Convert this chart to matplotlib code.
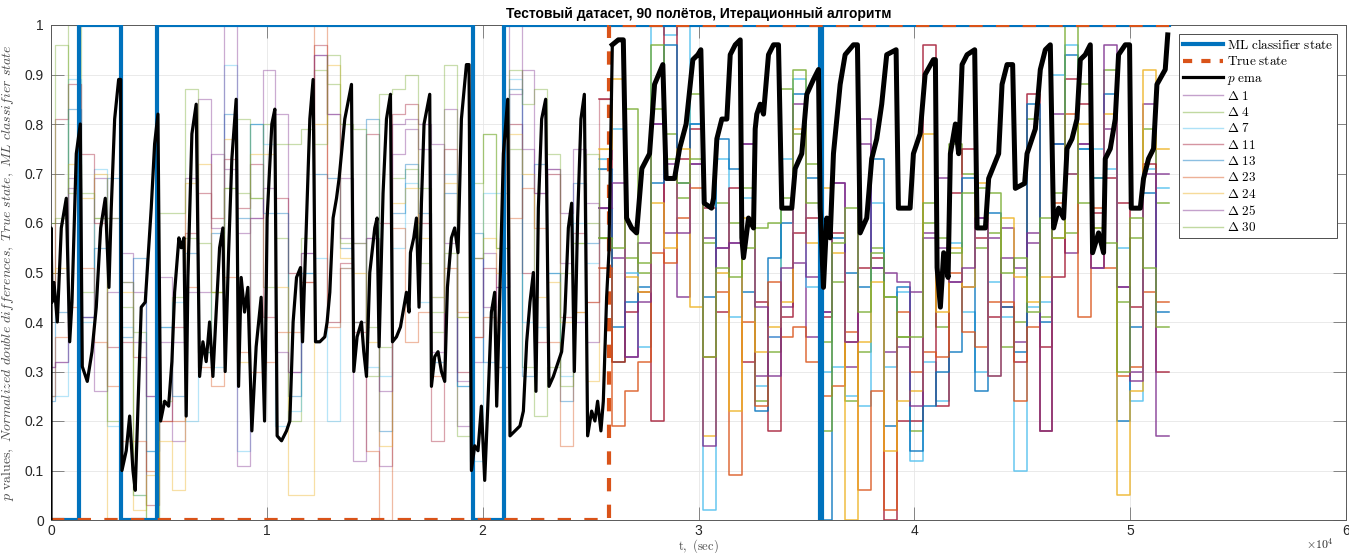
import numpy as np
import matplotlib
matplotlib.use('Agg')
import matplotlib.pyplot as plt
from matplotlib.lines import Line2D

plt.rcParams['mathtext.fontset'] = 'cm'

TITLE = 'Тестовый датасет, 90 полётов, Итерационный алгоритм'

# ---- flight grid (seconds) ----
first_flight_end = 200
flight_len = 600
n_cols = 87

# ---- ML classifier state and true state (step data) ----
ml_edges = [0, 1300, 3240, 4910, 19540, 20970, 35620, 35700, 51800]
ml_state = [0, 1, 0, 1, 0, 1, 0, 1]
true_edges = [0, 25850, 51800]
true_state = [0, 1]

# ---- normalized double differences, one value per flight ----
d1 = [0.31, 0.32, 0.69, 0.41, 0.69, 0.61, 0.54, 0.46, 0.25, 0.49,
      0.16, 0.69, 0.46, 0.74, 0.71, 0.58, 0.61, 0.91, 0.82, 0.30,
      0.54, 0.94, 0.82, 0.69, 0.56, 0.57, 0.11, 0.80, 0.81, 0.80,
      0.76, 0.56, 0.19, 0.32, 0.54, 0.47, 0.86, 0.91, 0.66, 0.71,
      0.52, 0.40, 0.64, 0.63, 0.53, 0.33, 0.56, 0.80, 0.58, 0.45,
      0.72, 0.57, 0.55, 0.56, 0.76, 0.29, 0.37, 0.43, 0.52, 0.37,
      0.42, 0.68, 0.31, 0.76, 0.51, 0.34, 0.35, 0.46, 0.58, 0.69,
      0.48, 0.47, 0.61, 0.57, 0.59, 0.36, 0.56, 0.18, 0.76, 0.54,
      0.76, 0.51, 0.79, 0.47, 0.30, 0.84, 0.70]
d4 = [0.48, 0.61, 1.00, 0.46, 0.61, 0.61, 0.43, 0.38, 0.00, 0.24,
      0.45, 0.57, 0.56, 0.46, 0.67, 0.66, 0.65, 0.47, 0.57, 0.20,
      0.57, 0.91, 0.88, 0.56, 0.56, 0.39, 0.35, 0.69, 0.71, 0.52,
      0.38, 0.54, 0.17, 0.68, 0.78, 0.55, 0.75, 0.31, 0.21, 0.31,
      0.50, 0.56, 0.60, 0.57, 0.32, 0.53, 0.50, 0.83, 0.78, 0.65,
      0.86, 0.56, 0.64, 0.60, 0.67, 0.24, 0.34, 0.87, 0.78, 0.72,
      0.36, 0.48, 0.24, 0.34, 0.55, 0.45, 0.37, 0.18, 0.60, 0.39,
      0.76, 0.70, 0.55, 0.58, 0.35, 0.40, 0.81, 0.41, 0.66, 0.58,
      0.88, 0.69, 0.91, 0.44, 0.57, 0.79, 0.64]
d7 = [0.25, 0.25, 0.89, 0.40, 0.71, 0.19, 0.39, 0.05, 0.14, 0.39,
      0.44, 0.20, 0.34, 0.31, 0.92, 0.14, 0.80, 0.76, 0.19, 0.22,
      0.50, 0.53, 0.20, 0.51, 0.40, 0.31, 0.29, 0.55, 0.68, 0.44,
      0.45, 0.70, 0.27, 0.12, 0.66, 0.66, 0.89, 0.40, 0.39, 0.50,
      0.29, 0.60, 0.52, 0.73, 0.79, 0.50, 0.35, 1.00, 0.98, 1.00,
      0.80, 0.02, 0.73, 0.41, 0.65, 0.27, 0.37, 0.73, 0.89, 0.47,
      0.30, 0.31, 0.25, 0.23, 0.64, 0.31, 0.46, 0.12, 0.32, 0.24,
      0.56, 0.42, 0.30, 0.48, 0.41, 0.10, 0.43, 0.44, 0.90, 0.96,
      0.75, 0.75, 0.71, 0.55, 0.24, 0.71, 0.67]
d11 = [0.47, 0.81, 0.88, 0.74, 0.60, 0.35, 0.36, 0.33, 0.03, 0.20,
       0.39, 0.58, 0.66, 0.61, 0.73, 0.63, 0.72, 0.41, 0.65, 0.50,
       0.48, 0.96, 0.40, 0.52, 0.38, 0.78, 0.60, 0.82, 0.84, 0.60,
       0.16, 0.75, 0.30, 0.37, 0.51, 0.40, 0.80, 0.50, 0.36, 0.70,
       0.41, 0.58, 0.44, 0.85, 0.32, 0.42, 0.46, 0.20, 1.00, 0.73,
       0.79, 0.63, 0.42, 0.67, 0.32, 0.44, 0.18, 0.41, 0.58, 0.61,
       0.41, 0.58, 0.36, 0.51, 0.53, 0.00, 0.20, 0.20, 0.96, 0.23,
       0.66, 0.75, 0.57, 0.41, 0.43, 0.32, 0.86, 0.35, 0.49, 0.89,
       0.84, 0.62, 0.69, 0.64, 0.43, 0.72, 0.30]
d13 = [0.24, 0.42, 0.83, 0.41, 0.55, 0.69, 0.37, 0.53, 0.14, 0.39,
       0.25, 0.54, 0.34, 0.58, 0.82, 0.61, 0.80, 0.62, 0.62, 0.25,
       0.50, 0.70, 0.69, 0.55, 0.40, 0.81, 0.18, 0.62, 0.72, 0.62,
       0.32, 0.66, 0.27, 0.58, 0.32, 0.31, 0.87, 0.29, 0.72, 0.50,
       0.24, 0.68, 0.56, 0.71, 0.39, 0.44, 0.47, 0.68, 0.96, 0.68,
       0.80, 0.45, 0.77, 0.71, 0.46, 0.22, 0.53, 0.60, 0.86, 0.69,
       0.00, 0.57, 0.50, 0.47, 0.73, 0.19, 0.47, 0.14, 0.23, 0.30,
       0.34, 0.69, 0.26, 0.62, 0.43, 0.34, 0.84, 0.40, 0.76, 0.94,
       0.75, 0.69, 0.86, 0.20, 0.39, 0.66, 0.42]
d23 = [0.25, 0.37, 0.43, 0.51, 0.36, 0.27, 0.16, 0.16, 0.10, 0.20,
       0.20, 0.47, 0.31, 0.27, 0.49, 0.34, 0.30, 0.32, 0.38, 0.38,
       0.48, 1.00, 0.39, 0.51, 0.40, 0.14, 0.00, 0.59, 0.36, 0.42,
       0.29, 0.51, 0.42, 0.37, 0.41, 0.31, 0.61, 0.67, 0.59, 0.36,
       0.15, 0.42, 0.44, 0.51, 0.19, 0.26, 0.32, 0.54, 0.52, 0.61,
       0.67, 0.33, 0.46, 0.09, 0.40, 0.23, 0.48, 0.37, 0.39, 0.32,
       0.25, 0.27, 0.38, 0.06, 0.26, 0.02, 0.42, 0.30, 0.34, 0.33,
       0.50, 0.38, 0.35, 0.44, 0.44, 0.24, 0.39, 0.18, 0.64, 0.82,
       0.41, 0.63, 0.51, 0.29, 0.31, 0.46, 0.44]
d24 = [0.50, 0.51, 0.72, 0.65, 0.70, 0.00, 0.46, 0.02, 0.09, 0.16,
       0.06, 0.68, 0.72, 0.46, 0.77, 0.32, 0.74, 0.74, 0.47, 0.05,
       0.05, 0.80, 0.92, 0.53, 0.50, 0.36, 0.15, 0.64, 0.67, 0.57,
       0.45, 0.68, 0.41, 0.53, 0.57, 0.50, 0.78, 0.70, 0.45, 0.48,
       0.40, 0.42, 0.28, 0.75, 0.89, 0.49, 0.46, 0.64, 0.55, 0.75,
       0.43, 0.17, 0.50, 0.22, 0.61, 0.34, 0.39, 0.44, 0.79, 0.56,
       0.67, 0.54, 0.00, 0.36, 0.48, 0.14, 0.24, 0.26, 0.78, 0.42,
       0.55, 0.47, 0.68, 0.29, 0.61, 0.49, 0.44, 0.49, 0.57, 0.70,
       0.80, 0.59, 0.82, 0.05, 0.26, 0.91, 0.75]
d25 = [0.31, 0.32, 0.67, 0.41, 0.26, 0.46, 0.48, 0.36, 0.25, 0.36,
       0.36, 0.46, 0.85, 0.59, 1.00, 0.11, 0.61, 0.67, 0.34, 0.30,
       0.54, 0.94, 0.82, 0.57, 0.12, 0.57, 0.26, 0.74, 0.79, 0.75,
       0.34, 0.83, 0.28, 0.53, 0.43, 0.47, 1.00, 0.75, 0.66, 0.71,
       0.62, 0.75, 0.36, 0.63, 0.68, 0.33, 0.44, 0.80, 0.72, 0.58,
       0.72, 0.15, 0.55, 0.56, 0.76, 0.43, 0.29, 0.51, 0.84, 0.49,
       0.42, 0.68, 0.36, 0.81, 0.51, 0.50, 0.48, 0.23, 0.57, 0.55,
       0.48, 0.51, 0.61, 0.29, 0.53, 0.51, 0.58, 0.18, 0.82, 0.70,
       0.76, 0.51, 0.96, 0.47, 0.28, 0.70, 0.17]
d30 = [0.60, 0.96, 0.66, 0.66, 0.61, 0.20, 0.48, 0.05, 0.00, 0.62,
       0.62, 0.87, 0.34, 0.46, 0.67, 0.81, 0.65, 0.80, 0.76, 0.76,
       0.79, 0.76, 0.94, 0.80, 0.79, 0.29, 0.86, 0.87, 0.90, 0.67,
       0.42, 0.92, 0.41, 0.53, 0.78, 0.55, 0.91, 0.84, 0.87, 0.74,
       0.27, 0.56, 0.74, 0.57, 0.55, 0.83, 0.52, 0.96, 0.73, 0.68,
       0.73, 0.33, 0.51, 0.49, 0.55, 0.59, 0.60, 0.65, 0.91, 0.64,
       0.18, 0.56, 0.63, 0.42, 0.54, 0.45, 0.37, 0.37, 0.64, 0.57,
       0.54, 0.66, 0.67, 0.66, 0.50, 0.53, 0.42, 0.61, 0.57, 1.00,
       0.64, 0.59, 0.56, 0.30, 0.61, 0.51, 0.39]

delta_labels = ['1', '4', '7', '11', '13', '23', '24', '25', '30']
delta_colors = ['#7E2F8E', '#77AC30', '#4DBEEE', '#A2142F', '#0072BD',
                '#D95319', '#EDB120', '#7E2F8E', '#77AC30']

# ---- p ema curve: (t [s], p) ----
p_ema_points = [
    (0, 0.00), (5, 0.59), (46, 0.44), (139, 0.48), (292, 0.40), (477, 0.59),
    (708, 0.65), (866, 0.36), (972, 0.44), (1171, 0.74), (1357, 0.80),
    (1449, 0.31), (1681, 0.28), (1898, 0.34), (2097, 0.43), (2301, 0.59),
    (2514, 0.65), (2685, 0.47), (2792, 0.63), (2949, 0.81), (3134, 0.89),
    (3227, 0.89), (3287, 0.10), (3486, 0.14), (3644, 0.21), (3797, 0.10),
    (3903, 0.06), (4181, 0.43), (4366, 0.44), (4644, 0.63), (4801, 0.76),
    (4954, 0.82), (5079, 0.20), (5264, 0.24), (5449, 0.23), (5602, 0.32),
    (5727, 0.46), (5926, 0.57), (6033, 0.55), (6158, 0.57), (6264, 0.21),
    (6343, 0.49), (6528, 0.78), (6727, 0.84), (6885, 0.29), (7038, 0.36),
    (7190, 0.32), (7348, 0.40), (7501, 0.29), (7653, 0.42), (7811, 0.55),
    (7964, 0.59), (8070, 0.30), (8228, 0.54), (8380, 0.73), (8579, 0.85),
    (8690, 0.27), (8811, 0.49), (8968, 0.42), (9121, 0.47), (9306, 0.18),
    (9505, 0.35), (9737, 0.45), (9894, 0.20), (10014, 0.61), (10232, 0.80),
    (10371, 0.83), (10477, 0.17), (10681, 0.16), (10912, 0.18), (11066, 0.20),
    (11218, 0.40), (11376, 0.49), (11561, 0.51), (11654, 0.36), (11839, 0.61),
    (11992, 0.81), (12144, 0.89), (12256, 0.36), (12455, 0.36), (12686, 0.37),
    (12793, 0.40), (12918, 0.46), (13070, 0.61), (13228, 0.65), (13348, 0.69),
    (13612, 0.81), (13922, 0.88), (14029, 0.30), (14182, 0.37), (14385, 0.40),
    (14492, 0.34), (14617, 0.29), (14770, 0.50), (15001, 0.59), (15108, 0.61),
    (15200, 0.35), (15385, 0.66), (15543, 0.81), (15728, 0.86), (15821, 0.36),
    (16006, 0.37), (16191, 0.39), (16311, 0.42), (16469, 0.46), (16589, 0.42),
    (16654, 0.54), (16807, 0.57), (16932, 0.61), (17052, 0.43), (17163, 0.64),
    (17284, 0.80), (17548, 0.86), (17626, 0.27), (17779, 0.33), (17932, 0.34),
    (18089, 0.30), (18242, 0.28), (18367, 0.47), (18552, 0.57), (18705, 0.59),
    (18858, 0.54), (19015, 0.81), (19247, 0.92), (19367, 0.92), (19478, 0.10),
    (19631, 0.15), (19784, 0.14), (19941, 0.23), (20094, 0.08), (20247, 0.24),
    (20404, 0.42), (20557, 0.46), (20650, 0.23), (20803, 0.47), (20960, 0.74),
    (21159, 0.85), (21266, 0.17), (21497, 0.18), (21728, 0.19), (21886, 0.22),
    (22039, 0.36), (22192, 0.44), (22349, 0.50), (22469, 0.26), (22580, 0.63),
    (22733, 0.81), (22919, 0.85), (23071, 0.27), (23275, 0.29), (23507, 0.32),
    (23659, 0.34), (23812, 0.42), (23970, 0.59), (24122, 0.64), (24247, 0.30),
    (24400, 0.61), (24553, 0.81), (24711, 0.86), (24863, 0.17), (25048, 0.22),
    (25201, 0.20), (25326, 0.24), (25479, 0.18), (25590, 0.24), (25743, 0.45),
    (25849, 0.54), (26007, 0.96), (26285, 0.97), (26516, 0.97), (26669, 0.61),
    (26900, 0.59), (27132, 0.58), (27376, 0.71), (27732, 0.74), (27964, 0.88),
    (28348, 0.92), (28501, 0.69), (28890, 0.69), (29122, 0.75), (29427, 0.80),
    (29738, 0.93), (29970, 0.94), (30109, 0.95), (30266, 0.64), (30604, 0.63),
    (30697, 0.65), (30850, 0.77), (31082, 0.81), (31313, 0.81), (31470, 0.94),
    (31702, 0.96), (31933, 0.97), (32008, 0.57), (32086, 0.53), (32317, 0.61),
    (32549, 0.59), (32627, 0.79), (32701, 0.82), (32859, 0.84), (33012, 0.82),
    (33243, 0.94), (33475, 0.96), (33706, 0.96), (33859, 0.63), (34322, 0.63),
    (34480, 0.71), (34785, 0.74), (35017, 0.86), (35327, 0.89), (35558, 0.91),
    (35637, 0.63), (35790, 0.47), (35943, 0.61), (36100, 0.57), (36253, 0.74),
    (36563, 0.88), (36794, 0.94), (37179, 0.96), (37364, 0.96), (37489, 0.58),
    (37795, 0.61), (38026, 0.73), (38257, 0.77), (38489, 0.84), (38720, 0.94),
    (39155, 0.95), (39262, 0.63), (39804, 0.63), (39957, 0.74), (40267, 0.78),
    (40499, 0.90), (40883, 0.93), (40976, 0.93), (41054, 0.51), (41207, 0.43),
    (41360, 0.54), (41564, 0.49), (41670, 0.74), (41902, 0.80), (42055, 0.74),
    (42212, 0.92), (42444, 0.94), (42796, 0.95), (42907, 0.59), (43292, 0.59),
    (43444, 0.69), (43907, 0.74), (44064, 0.88), (44296, 0.92), (44555, 0.92),
    (44680, 0.67), (45110, 0.68), (45221, 0.74), (45606, 0.79), (45837, 0.91),
    (46069, 0.95), (46300, 0.96), (46453, 0.59), (46684, 0.63), (46916, 0.61),
    (47073, 0.75), (47305, 0.77), (47536, 0.81), (47689, 0.93), (47921, 0.94),
    (48152, 0.96), (48258, 0.54), (48536, 0.58), (48768, 0.54), (48847, 0.73),
    (49078, 0.75), (49310, 0.81), (49462, 0.94), (49773, 0.96), (49972, 0.96),
    (50051, 0.63), (50468, 0.63), (50620, 0.69), (50852, 0.73), (51083, 0.75),
    (51240, 0.88), (51625, 0.91), (51740, 0.98),
]
t_ema = [pt[0] for pt in p_ema_points]
p_ema = [pt[1] for pt in p_ema_points]

x_ticks = [0, 10000, 20000, 30000, 40000, 50000, 60000]
x_tick_labels = ['0', '1', '2', '3', '4', '5', '6']
y_ticks = [0, 0.1, 0.2, 0.3, 0.4, 0.5, 0.6, 0.7, 0.8, 0.9, 1.0]
y_tick_labels = ['0', '0.1', '0.2', '0.3', '0.4', '0.5', '0.6', '0.7', '0.8', '0.9', '1']

# ---------------------------------------------------------------
W, H = 1349, 553
fig = plt.figure(figsize=(W / 100, H / 100), dpi=100)
ax = fig.add_axes([51 / W, 33 / H, 1295 / W, 495 / H])

edges = np.concatenate([[0], first_flight_end + flight_len * np.arange(n_cols)])
split = 44  # flights after the true state switch are drawn stronger

deltas = [d1, d4, d7, d11, d13, d23, d24, d25, d30]
for vals, col in zip(deltas, delta_colors):
    v = np.asarray(vals, dtype=float)
    ya = np.append(v[:split], v[split - 1])
    ax.plot(edges[:split + 1], ya, drawstyle='steps-post', color=col,
            lw=0.9, alpha=0.4, zorder=2)
    yb = np.append(v[split - 1:], v[-1])
    ax.plot(edges[split - 1:], yb, drawstyle='steps-post', color=col,
            lw=1.1, alpha=0.85, zorder=2)

ml_x = ml_edges
ml_y = ml_state + [ml_state[-1]]
ax.plot(ml_x, ml_y, drawstyle='steps-post', color='#0072BD', lw=3.0,
        zorder=3, solid_joinstyle='miter')
tr_y = true_state + [true_state[-1]]
ax.plot(true_edges, tr_y, drawstyle='steps-post', color='#D95319', lw=3.0,
        dashes=(3.2, 3.2), zorder=4)

t_arr = np.asarray(t_ema, dtype=float)
p_arr = np.asarray(p_ema, dtype=float)
ax.plot(t_arr, p_arr, color='black', lw=2.3, zorder=5)
m = t_arr >= 26000
ax.plot(t_arr[m], p_arr[m], color='black', lw=3.6, zorder=5)

ax.set_xlim(0, 60000)
ax.set_ylim(0, 1)
ax.set_xticks(x_ticks)
ax.set_xticklabels(x_tick_labels)
ax.set_yticks(y_ticks)
ax.set_yticklabels(y_tick_labels)
ax.tick_params(direction='in', top=True, right=True, length=9.5, width=0.6,
               color='0.45', labelsize=10, labelcolor='0.15')
ax.tick_params(axis='y', pad=5)
ax.tick_params(axis='x', pad=3)
for lab in ax.get_xticklabels() + ax.get_yticklabels():
    lab.set_family('Liberation Sans')
ax.grid(True, color='0.9', lw=0.6)
ax.set_axisbelow(True)
for s in ax.spines.values():
    s.set_color('0.35')
    s.set_linewidth(0.7)

ax.set_title(TITLE, fontsize=10, fontweight='bold', family='Liberation Sans',
             pad=5, color='black')
ax.set_ylabel(r'$p\ \mathrm{values,}\ Normalized\ double\ differences,'
              r'\ True\ state,\ ML\ classifier\ state$',
              fontsize=10, color='0.3', labelpad=6)
ax.set_xlabel(r'$\mathrm{t,\ (sec)}$', fontsize=9, color='0.3')
ax.xaxis.set_label_coords(0.5, -0.034)
ax.xaxis.label.set_verticalalignment('top')
ax.text(0.99, -0.0585, r'$\times10^{4}$', transform=ax.transAxes, ha='right',
        va='baseline', fontsize=8.5, color='0.15')

handles = [
    Line2D([], [], color='#0072BD', lw=3.0),
    Line2D([], [], color='#D95319', lw=3.0, dashes=(2.2, 2.2)),
    Line2D([], [], color='black', lw=2.3),
]
labels = [r'$\mathrm{ML\ classifier\ state}$', r'$\mathrm{True\ state}$',
          r'$p\ \mathrm{ema}$']
for lab, col in zip(delta_labels, delta_colors):
    handles.append(Line2D([], [], color=col, lw=1.0, alpha=0.45))
    labels.append(r'$\Delta\ ' + lab + '$')
leg = ax.legend(handles, labels, loc='upper right',
                bbox_to_anchor=((1337 - 51) / 1295, (520 - 34) / 495),
                borderaxespad=0, fontsize=9.5, labelspacing=0.25,
                handlelength=3.0, handletextpad=0.3, borderpad=0.3,
                fancybox=False, framealpha=1, edgecolor='0.3')
leg.get_frame().set_linewidth(0.7)
leg.set_zorder(10)

fig.savefig('out.png', dpi=100)
